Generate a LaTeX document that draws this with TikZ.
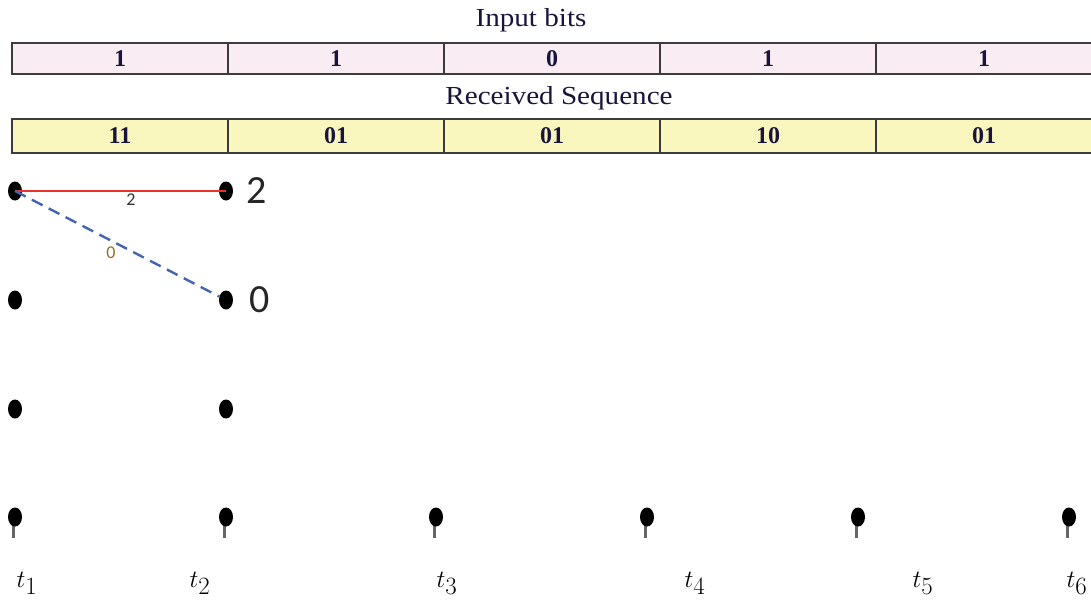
\documentclass[tikz,border=0pt]{standalone}
\usepackage{fontspec}
\setmainfont{Liberation Serif}
\newfontfamily\calibri{Carlito}
\usetikzlibrary{shapes.geometric,positioning}
\definecolor{bitpink}{RGB}{249,236,243}
\definecolor{seqyellow}{RGB}{250,247,190}
\definecolor{cellline}{RGB}{60,60,60}
\definecolor{cellink}{RGB}{25,20,60}
\definecolor{pathred}{RGB}{232,52,40}
\definecolor{pathblue}{RGB}{68,100,178}
\definecolor{branchink}{RGB}{150,110,40}
\tikzstyle{bitcell} = [rectangle, draw=cellline, line width=1.6pt, fill=bitpink,
    minimum width=216pt, minimum height=31pt, inner sep=0pt,
    font=\fontsize{24}{24}\bfseries\selectfont, text=cellink]
\tikzstyle{seqcell} = [bitcell, fill=seqyellow, minimum height=34pt]
\tikzstyle{heading} = [font=\fontsize{26}{26}\selectfont, text=cellink, xscale=1.12, transform shape]
\tikzstyle{state} = [ellipse, fill=black, minimum width=14pt, minimum height=19pt, inner sep=0pt]
\tikzstyle{stem} = [draw=black!60, line width=2.2pt]
\tikzstyle{metric} = [font=\calibri\fontsize{40}{40}\selectfont, text=black!85]
\tikzstyle{branch} = [font=\calibri\fontsize{18}{18}\selectfont, inner sep=1pt]
\tikzstyle{timelabel} = [font=\fontsize{33}{33}\selectfont, anchor=base]

\begin{document}
\begin{tikzpicture}[x=1pt, y=-1pt]
        \useasboundingbox (0,0) rectangle (1091,599);
        % Bit table and received pairs
        \node [heading] (bitstitle) at (531,20) {Input bits};
        \node [heading] (seqtitle) at (559,98) {Received Sequence};
        \foreach \bit [count=\i] in {1,1,0,1,1}
            \node [bitcell] (bit\i) at ({120+216*(\i-1)},58.5) {\bit};
        \foreach \pair [count=\i] in {11,01,01,10,01}
            \node [seqcell] (seq\i) at ({120+216*(\i-1)},136) {\pair};
        % Place trellis states
        \foreach \x [count=\c] in {15,226,436,647,858,1069} {
            \draw [stem] (\x-1.5,522) -- ++(0,16);
            \node [state] (s\c-4) at (\x,517) {};
        }
        \foreach \c/\x in {1/15,2/226}
            \foreach \r/\y in {1/191,2/300,3/409}
                \node [state] (s\c-\r) at (\x,\y) {};
        % Draw branches
        \draw [pathred, line width=2.2pt] (s1-1.center) -- node [branch, pos=0.55, below=1pt, text=black!80] {2} (s2-1.center);
        \draw [pathblue, line width=2.4pt, dash pattern=on 12pt off 7pt] (s1-1.center) -- node [branch, pos=0.47, below=4pt, text=branchink] {0} (s2-2);
        \node [metric, right=10pt of s2-1] (m2) {2};
        \node [metric, right=13pt of s2-2] (m0) {0};
        % Time instants
        \node [timelabel] (t1) at (27,587) {$t_1$};
        \node [timelabel] (t2) at (200,587) {$t_2$};
        \node [timelabel] (t3) at (447,587) {$t_3$};
        \node [timelabel] (t4) at (695,587) {$t_4$};
        \node [timelabel] (t5) at (923,587) {$t_5$};
        \node [timelabel] (t6) at (1077,587) {$t_6$};
    \end{tikzpicture}
\end{document}
